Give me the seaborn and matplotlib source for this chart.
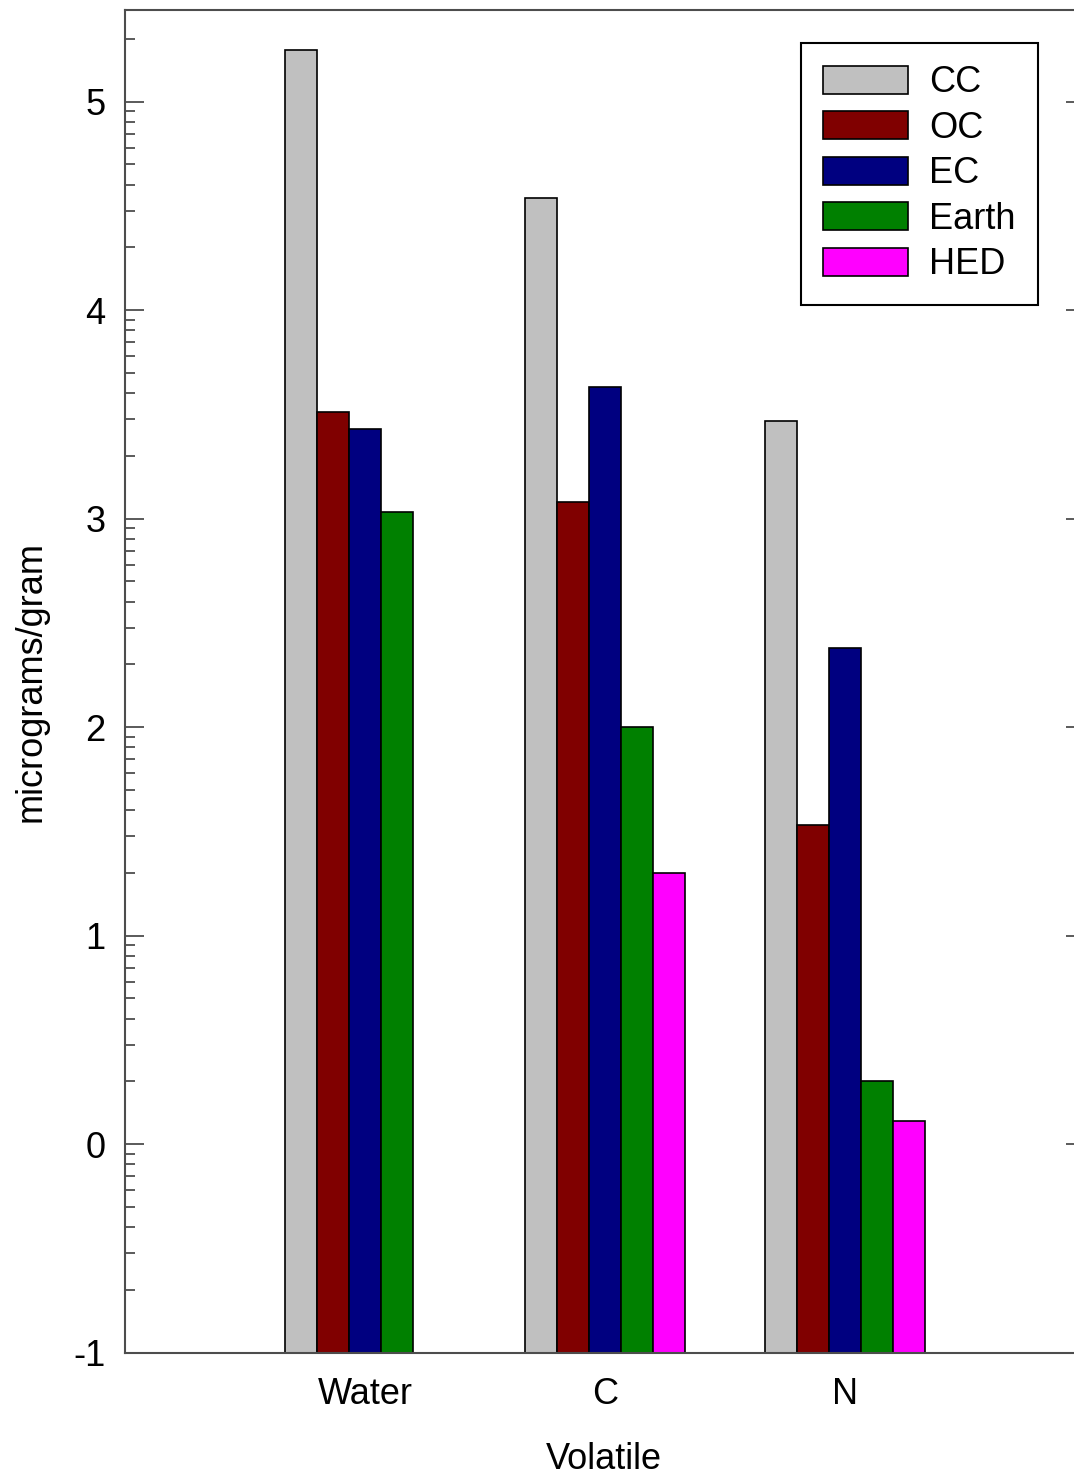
import numpy as np
import pandas as pd
import matplotlib
matplotlib.use("Agg")
import matplotlib.pyplot as plt
from matplotlib.patches import Patch
from matplotlib.ticker import FixedLocator
import seaborn as sns

# Volatile abundances (log10 scale) per meteorite class
volatiles = ["Water", "C", "N"]
groups = ["CC", "OC", "EC", "Earth", "HED"]
cc = [5.25, 4.54, 3.47]
oc = [3.51, 3.08, 1.53]
ec = [3.43, 3.63, 2.38]
earth = [3.03, 2.00, 0.30]
hed = [np.nan, 1.30, 0.11]
colors = ["#C0C0C0", "#800000", "#000080", "#008000", "#FF00FF"]
y_major = [-1, 0, 1, 2, 3, 4, 5]
baseline = -1.0

series = {"CC": cc, "OC": oc, "EC": ec, "Earth": earth, "HED": hed}
rows = []
for g, vals in series.items():
    for v, val in zip(volatiles, vals):
        if not np.isnan(val):
            rows.append({"Volatile": v, "group": g, "value": val})
df = pd.DataFrame(rows)
df["height"] = df["value"] - baseline

sns.set_style("white")
plt.rcParams["font.family"] = ["Liberation Sans", "DejaVu Sans"]
plt.rcParams["axes.unicode_minus"] = False
plt.rcParams["text.color"] = "black"
plt.rcParams["axes.labelcolor"] = "black"
plt.rcParams["xtick.color"] = "black"
plt.rcParams["ytick.color"] = "black"

fig = plt.figure(figsize=(10.74, 14.79), dpi=100)
W, H = 1074, 1479
left, right, top, bottom = 125, 1085, 9.5, 1352.5
ax = fig.add_axes([left / W, 1 - bottom / H, (right - left) / W, (bottom - top) / H])

sns.barplot(data=df, x="Volatile", y="height", hue="group",
            order=volatiles, hue_order=groups, palette=colors,
            width=2 / 3, bottom=baseline, errorbar=None,
            edgecolor="black", linewidth=1.2, saturation=1,
            legend=False, ax=ax)

ax.set_xlim(-1, 3)
ax.set_ylim(-1, 5.442)

fs = 26
ax.yaxis.set_major_locator(FixedLocator(y_major))
ax.set_yticklabels([str(t) for t in y_major], fontsize=fs)
minor = [n + np.log10(k) for n in range(-1, 6) for k in range(2, 10)]
ax.yaxis.set_minor_locator(FixedLocator([m for m in minor if m < 5.442]))
ax.tick_params(axis="y", which="major", direction="in", length=14, width=1.3,
               color="#4d4d4d", labelcolor="black", left=True, right=True, pad=14)
ax.tick_params(axis="y", which="minor", direction="in", length=7, width=1.3,
               color="#4d4d4d", left=True, right=False)
ax.tick_params(axis="x", which="both", bottom=False, top=False, labelsize=fs,
               labelcolor="black", pad=14.5)

for s in ax.spines.values():
    s.set_visible(True)
    s.set_color("#4d4d4d")
    s.set_linewidth(1.5)

ax.set_xlabel("Volatile", fontsize=fs, color="black")
ax.set_ylabel("micrograms/gram", fontsize=fs, color="black")
ax.xaxis.set_label_coords(0.4985, -0.067)
ax.yaxis.set_label_coords((49 - left) / (right - left), 0.5)

handles = [Patch(facecolor=c, edgecolor="black", linewidth=1.2, label=g)
           for g, c in zip(groups, colors)]
leg = ax.legend(handles=handles, loc="upper left",
                bbox_to_anchor=((801 - left) / (right - left), (bottom - 43) / (bottom - top)),
                borderaxespad=0, fontsize=fs, frameon=True, fancybox=False,
                handlelength=2.33, handleheight=0.8, handletextpad=0.6,
                labelspacing=0.29, borderpad=0.62)
for t in leg.get_texts():
    t.set_color("black")
frame = leg.get_frame()
frame.set_edgecolor("black")
frame.set_linewidth(1.5)
frame.set_alpha(1)

fig.savefig("out.png", dpi=100)
